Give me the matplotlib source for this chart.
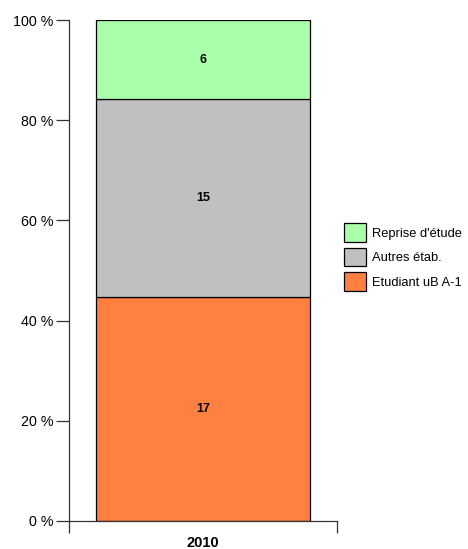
import matplotlib
matplotlib.use("Agg")
import matplotlib.pyplot as plt
from matplotlib.patches import Patch

plt.rcParams["font.family"] = ["Liberation Sans", "DejaVu Sans"]

years = ["2010"]
series = ["Etudiant uB A-1", "Autres étab.", "Reprise d'étude"]
counts = [17, 15, 6]
colors = ["#ff8040", "#c0c0c0", "#aaffaa"]

total = sum(counts)
fig = plt.figure(figsize=(4.68, 5.49), dpi=100)
ax = fig.add_axes([69 / 468, 1 - 521 / 549, (337 - 69) / 468, (521 - 20) / 549])

bottom = 0.0
for name, c, col in zip(series, counts, colors):
    pct = c / total * 100
    ax.bar(0, pct, width=0.8, bottom=bottom, color=col, edgecolor="black", linewidth=0.9)
    ax.text(0, bottom + pct / 2, str(c), ha="center", va="center",
            fontsize=9, fontweight="bold")
    bottom += pct

ax.set_xlim(-0.5, 0.5)
ax.set_ylim(0, 100)
ax.set_yticks([0, 20, 40, 60, 80, 100])
ax.set_yticklabels([f"{v} %" for v in [0, 20, 40, 60, 80, 100]], fontsize=10.3)
ax.tick_params(axis="y", direction="out", length=9.4, width=0.9, pad=1.5)

ax.set_xticks([-0.5, 0.5])
ax.set_xticklabels([])
ax.tick_params(axis="x", direction="out", length=8.6, width=0.9)
ax.text(0, -3.0, years[0], ha="center", va="top", fontsize=10.5, fontweight="bold")

for s in ["top", "right"]:
    ax.spines[s].set_visible(False)
for s in ["left", "bottom"]:
    ax.spines[s].set_linewidth(0.9)
    ax.spines[s].set_color("#333333")
ax.tick_params(colors="#333333", labelcolor="black")

handles = [Patch(facecolor=col, edgecolor="black", linewidth=0.9) for col in colors]
fig.legend(handles[::-1], series[::-1], loc="center left",
           bbox_to_anchor=(332 / 468, 1 - 257 / 549), frameon=False,
           fontsize=9.3, handlelength=1.7, handleheight=1.85,
           handletextpad=0.5, labelspacing=0.45)

fig.savefig("out.png", dpi=100)
